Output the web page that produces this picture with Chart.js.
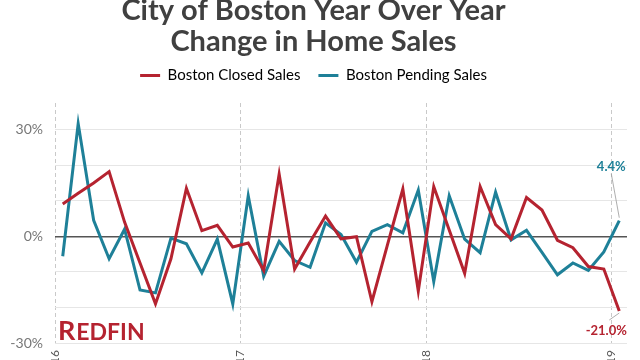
<!DOCTYPE html>
<html>
<head>
<meta charset="utf-8">
<script src="https://cdn.jsdelivr.net/npm/chart.js@4.4.0/dist/chart.umd.min.js"></script>
<style>
  html, body { margin: 0; padding: 0; background: #fff; overflow: hidden; }
  #wrap { position: absolute; left: 0; top: -5px; width: 640px; height: 400px; }
</style>
</head>
<body>
<div id="wrap"><canvas id="chart" width="640" height="400"></canvas></div>
<script>
// Boston YoY change (%), monthly Jan 2016 - Jan 2019
const months = [
  'Jan 2016', 'Feb 2016', 'Mar 2016', 'Apr 2016', 'May 2016', 'Jun 2016',
  'Jul 2016', 'Aug 2016', 'Sep 2016', 'Oct 2016', 'Nov 2016', 'Dec 2016',
  'Jan 2017', 'Feb 2017', 'Mar 2017', 'Apr 2017', 'May 2017', 'Jun 2017',
  'Jul 2017', 'Aug 2017', 'Sep 2017', 'Oct 2017', 'Nov 2017', 'Dec 2017',
  'Jan 2018', 'Feb 2018', 'Mar 2018', 'Apr 2018', 'May 2018', 'Jun 2018',
  'Jul 2018', 'Aug 2018', 'Sep 2018', 'Oct 2018', 'Nov 2018', 'Dec 2018',
  'Jan 2019'
];
const closedSales = [
  9.1, 12.1, 15.0, 18.2, 4.0, -7.5, -19.0, -6.3, 13.5, 1.6, 3.1, -3.0,
  -1.9, -9.6, 17.5, -9.2, -1.6, 5.7, -0.7, -0.1, -18.4, -2.5, 13.3, -15.4,
  14.0, 1.8, -10.4, 14.0, 3.3, -0.7, 10.9, 7.4, -1.1, -3.2, -8.5, -9.2,
  -21.0
];
const pendingSales = [
  -5.6, 31.7, 4.5, -6.3, 2.0, -15.1, -15.9, -0.5, -2.1, -10.3, -0.8, -19.0,
  11.4, -11.2, -1.4, -6.8, -8.7, 3.8, 0.5, -7.3, 1.4, 3.3, 1.0, 13.0,
  -12.7, 11.4, -0.8, -4.6, 12.4, -1.0, 1.7, -4.5, -10.8, -7.5, -9.6, -4.4,
  4.4
];
const yearLabels = ['2016', '2017', '2018', '2019'];
const yLabelValues = [30, 0, -30];

const RED = 'rgb(181, 35, 48)';
const TEAL = 'rgb(30, 128, 152)';
const FONT = "Lato, 'Noto Sans', sans-serif";

// year boundary sits half a month before each January point
const yearTicks = yearLabels.map((y) => months.indexOf('Jan ' + y) - 0.5);

const toPoints = (arr) => arr.map((v, i) => ({ x: i, y: v }));

// push the plot area down a bit below the legend
const legendSpace = {
  id: 'legendSpace',
  beforeInit(chart) {
    const fit = chart.legend.fit;
    chart.legend.fit = function () {
      fit.call(this);
      this.height += 10;
    };
  }
};

// end labels + logo
const endLabels = {
  id: 'endLabels',
  afterDatasetsDraw(chart) {
    const { ctx, chartArea } = chart;
    const xs = chart.scales.x, ys = chart.scales.y;
    const last = months.length - 1;
    const px = xs.getPixelForValue(last);
    const pyB = ys.getPixelForValue(pendingSales[last]);
    const pyR = ys.getPixelForValue(closedSales[last]);

    ctx.save();
    ctx.strokeStyle = '#999';
    ctx.lineWidth = 0.8;
    ctx.beginPath();
    ctx.moveTo(px, pyB - 3);
    ctx.lineTo(px - 8, pyB - 47);
    ctx.moveTo(px, pyR + 2);
    ctx.lineTo(px - 10, pyR + 9);
    ctx.stroke();

    ctx.font = 'bold 13px ' + FONT;
    ctx.textAlign = 'center';
    ctx.textBaseline = 'middle';
    ctx.fillStyle = TEAL;
    ctx.fillText(pendingSales[last].toFixed(1) + '%', px - 8, pyB - 54);
    ctx.fillStyle = RED;
    ctx.fillText(closedSales[last].toFixed(1) + '%', px - 13, pyR + 20);

    // REDFIN wordmark
    ctx.textAlign = 'left';
    ctx.textBaseline = 'alphabetic';
    const lx = chartArea.left + 3, ly = chartArea.bottom - 3;
    ctx.font = 'bold 27px ' + FONT;
    ctx.fillText('R', lx, ly);
    const rw = ctx.measureText('R').width;
    ctx.font = 'bold 23px ' + FONT;
    ctx.fillText('EDFIN', lx + rw + 1, ly);
    ctx.restore();
  }
};

new Chart(document.getElementById('chart'), {
  type: 'line',
  data: {
    datasets: [
      {
        label: 'Boston Closed Sales',
        data: toPoints(closedSales),
        borderColor: RED,
        backgroundColor: RED,
        borderWidth: 3,
        pointRadius: 0,
        tension: 0
      },
      {
        label: 'Boston Pending Sales',
        data: toPoints(pendingSales),
        borderColor: TEAL,
        backgroundColor: TEAL,
        borderWidth: 3,
        pointRadius: 0,
        tension: 0
      }
    ]
  },
  options: {
    responsive: false,
    animation: false,
    layout: { padding: { left: 0, right: 13, top: 0, bottom: 0 } },
    plugins: {
      tooltip: { enabled: false },
      title: {
        display: true,
        text: ['City of Boston Year Over Year', 'Change in Home Sales'],
        color: '#404040',
        font: { family: FONT, size: 29, weight: 'bold', lineHeight: 31 / 29 },
        padding: { top: 0, bottom: -7 }
      },
      legend: {
        display: true,
        labels: {
          boxWidth: 20,
          boxHeight: 3,
          padding: 18,
          color: '#444',
          font: { family: FONT, size: 15 },
          generateLabels: (chart) => chart.data.datasets.map((ds, i) => ({
            text: ds.label,
            fillStyle: ds.borderColor,
            strokeStyle: ds.borderColor,
            lineWidth: 0,
            hidden: false,
            datasetIndex: i
          }))
        }
      }
    },
    scales: {
      x: {
        type: 'linear',
        min: -0.5,
        max: months.length - 0.5,
        afterBuildTicks: (scale) => {
          scale.ticks = yearTicks.map((v) => ({ value: v }));
        },
        afterFit: (scale) => { scale.height = 52; },
        ticks: {
          autoSkip: false,
          minRotation: 90,
          maxRotation: 90,
          padding: 7,
          color: '#555',
          font: { family: FONT, size: 12 },
          callback: (v) => yearLabels[yearTicks.indexOf(v)] || ''
        },
        grid: { color: '#c9c9c9', lineWidth: 1, drawTicks: false },
        border: { display: false, dash: [4, 3] }
      },
      y: {
        min: -30,
        max: 37.5,
        afterFit: (scale) => { scale.width = 55; },
        ticks: {
          stepSize: 5,
          padding: 12,
          color: '#777',
          font: { family: FONT, size: 14 },
          callback: (v) => yLabelValues.includes(v) ? v + '%' : ''
        },
        grid: {
          drawTicks: false,
          color: (c) => c.tick.value === 0 ? '#555' : (c.tick.value > 35 ? 'rgba(0,0,0,0)' : '#e6e6e6'),
          lineWidth: (c) => c.tick.value === 0 ? 1.5 : 1
        },
        border: { display: false }
      }
    }
  },
  plugins: [legendSpace, endLabels]
});
</script>
</body>
</html>
